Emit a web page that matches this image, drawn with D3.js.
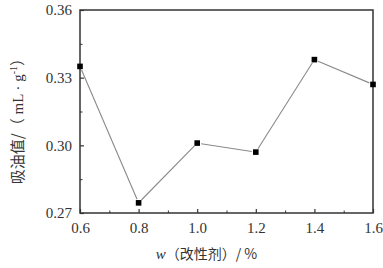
<!DOCTYPE html>
<html><head><meta charset="utf-8">
<script src="https://cdn.jsdelivr.net/npm/d3@7"></script>
<style>body{margin:0;background:#fff}svg{display:block}</style>
</head><body>
<script>
const xValues = [0.6, 0.8, 1.0, 1.2, 1.4, 1.6];
const oilAbsorption = [0.335, 0.2745, 0.301, 0.297, 0.338, 0.327];
const xTicks = [0.6, 0.8, 1.0, 1.2, 1.4, 1.6];
const yTicks = [0.27, 0.30, 0.33, 0.36];
const xMinor = [0.7, 0.9, 1.1, 1.3, 1.5];
const yMinor = [0.285, 0.315, 0.345];

const W = 383, H = 268;
const m = {l: 80, r: 10, t: 10, b: 55};
const svg = d3.select("body").append("svg").attr("width", W).attr("height", H);
const x = d3.scaleLinear().domain([0.6, 1.6]).range([m.l, W - m.r]);
const y = d3.scaleLinear().domain([0.27, 0.36]).range([H - m.b, m.t]);
const font = "'Liberation Serif','Times New Roman',serif";
const axisColor = "#333";

const pts = xValues.map((v, i) => [x(v), y(oilAbsorption[i])]);
const gap = 4;
for (let i = 0; i < pts.length - 1; i++) {
  const [x1, y1] = pts[i], [x2, y2] = pts[i + 1];
  const d = Math.hypot(x2 - x1, y2 - y1), ux = (x2 - x1) / d, uy = (y2 - y1) / d;
  svg.append("line").attr("x1", x1 + ux * gap).attr("y1", y1 + uy * gap)
    .attr("x2", x2 - ux * gap).attr("y2", y2 - uy * gap)
    .attr("stroke", "#8a8a8a").attr("stroke-width", 1.1);
}

svg.append("rect").attr("x", m.l).attr("y", m.t).attr("width", W - m.r - m.l).attr("height", H - m.b - m.t)
  .attr("fill", "none").attr("stroke", axisColor).attr("stroke-width", 1.5);

const xAxis = d3.axisBottom(x).tickValues(xTicks).tickFormat(d3.format(".1f")).tickSizeInner(-4).tickSizeOuter(0).tickPadding(9);
const gx = svg.append("g").attr("transform", `translate(0,${H - m.b})`).call(xAxis);
const yAxis = d3.axisLeft(y).tickValues(yTicks).tickFormat(d3.format(".2f")).tickSizeInner(-4).tickSizeOuter(0).tickPadding(8);
const gy = svg.append("g").attr("transform", `translate(${m.l},0)`).call(yAxis);
[gx, gy].forEach(g => {
  g.select(".domain").remove();
  g.selectAll("line").attr("stroke", axisColor).attr("stroke-width", 1.2);
  g.selectAll("text").attr("font-family", font).attr("font-size", 15).attr("fill", "#333");
});
gx.selectAll("text").attr("dy", "0.71em");
svg.append("g").attr("transform", `translate(0,${H - m.b})`)
  .call(d3.axisBottom(x).tickValues(xMinor).tickSizeInner(-2.5).tickSizeOuter(0).tickFormat(""))
  .call(g => { g.select(".domain").remove(); g.selectAll("line").attr("stroke", axisColor); });
svg.append("g").attr("transform", `translate(${m.l},0)`)
  .call(d3.axisLeft(y).tickValues(yMinor).tickSizeInner(-2.5).tickSizeOuter(0).tickFormat(""))
  .call(g => { g.select(".domain").remove(); g.selectAll("line").attr("stroke", axisColor); });

svg.selectAll("rect.pt").data(xValues).join("rect").attr("class", "pt")
  .attr("x", (d) => x(d) - 2.8).attr("y", (d, i) => y(oilAbsorption[i]) - 2.8)
  .attr("width", 5.6).attr("height", 5.6).attr("fill", "#000");

const xt = svg.append("text").attr("x", (m.l + W - m.r) / 2 - 20).attr("y", 259)
  .attr("text-anchor", "middle").attr("font-family", "'Noto Sans CJK SC',sans-serif").attr("font-size", 14).attr("fill", "#333");
xt.append("tspan").attr("font-family", font).attr("font-style", "italic").attr("font-size", 15).text("w");
xt.append("tspan").text("（改性剂）/ %");

const yt = svg.append("text").attr("transform", `translate(23,${(m.t + H - m.b) / 2 + 6}) rotate(-90)`)
  .attr("text-anchor", "middle").attr("font-family", "'Noto Sans CJK SC',sans-serif").attr("font-size", 15).attr("fill", "#333");
yt.append("tspan").text("吸油值/（");
yt.append("tspan").attr("font-family", font).text(" mL · g");
yt.append("tspan").attr("font-family", font).attr("font-size", 10).attr("dy", -6).text("-1");
yt.append("tspan").attr("dy", 6).text("）");
</script>
</body></html>
